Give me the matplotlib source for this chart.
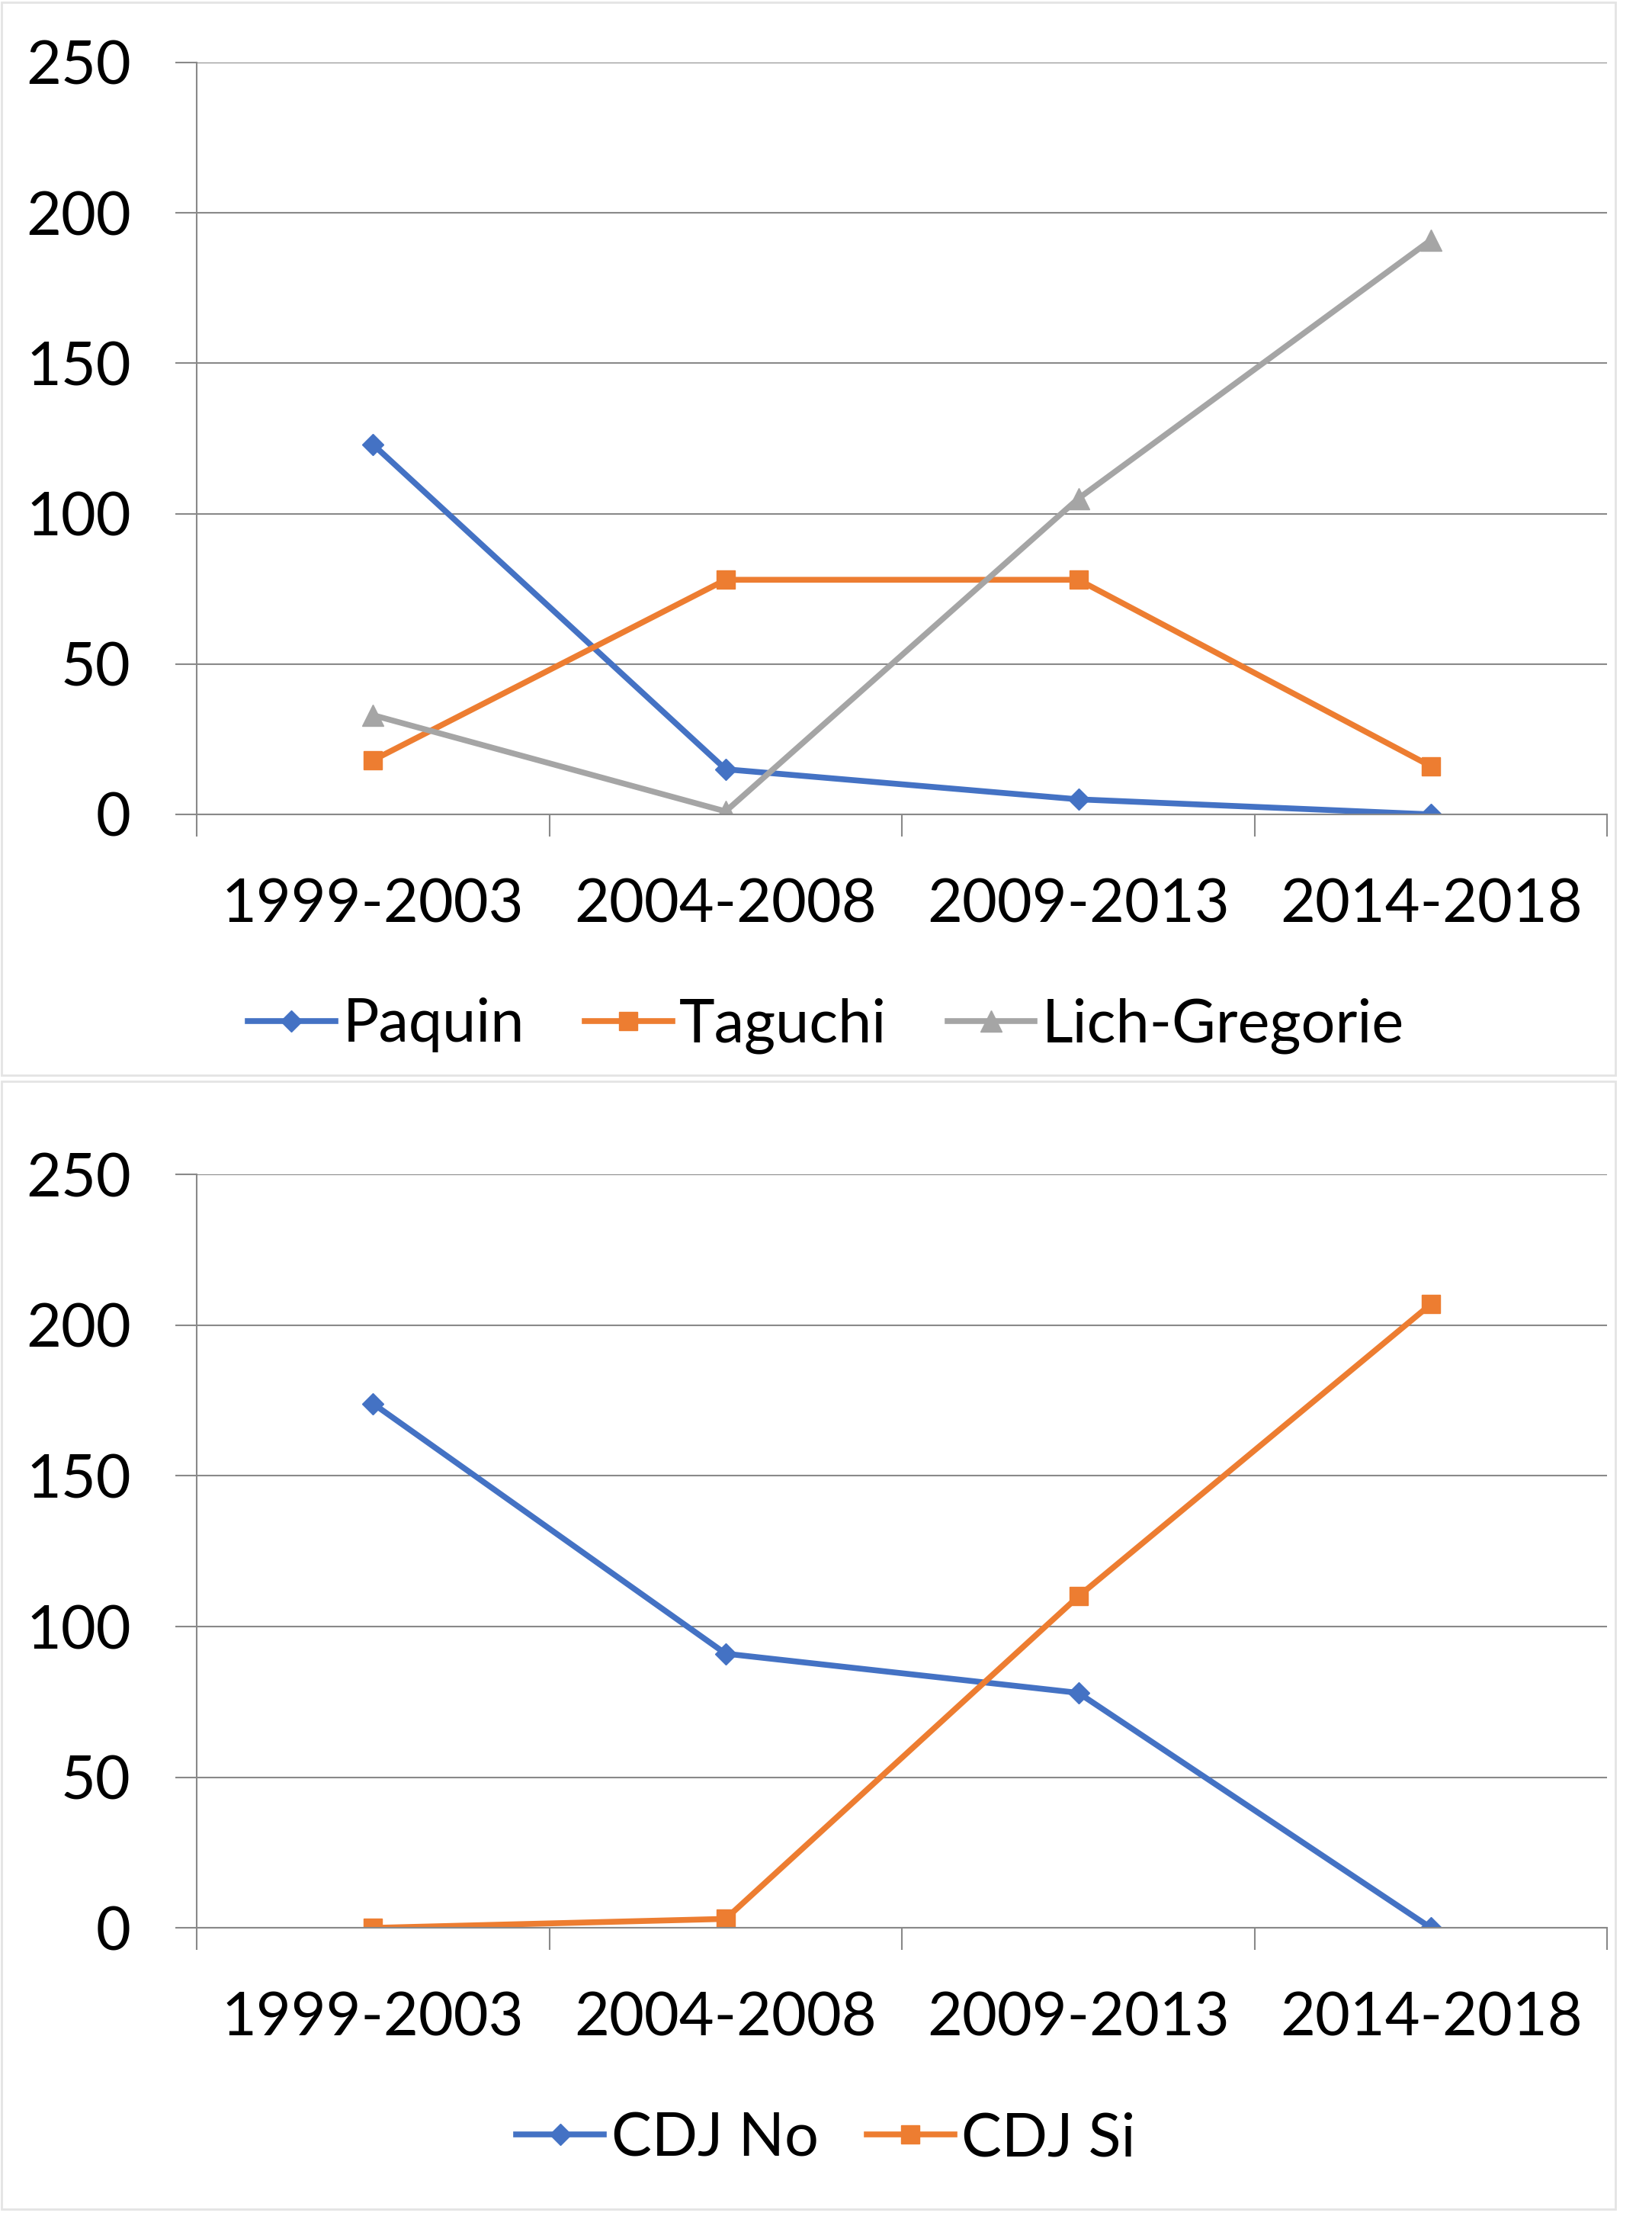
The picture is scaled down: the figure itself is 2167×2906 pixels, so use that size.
import matplotlib.pyplot as plt
from matplotlib.patches import Rectangle

# periods on the x axis
periods = ['1999-2003', '2004-2008', '2009-2013', '2014-2018']

# top chart series
paquin = [123, 15, 5, 0]
taguchi = [18, 78, 78, 16]
lich_gregorie = [33, 1, 105, 191]

# bottom chart series
cdj_no = [174, 91, 78, 0]
cdj_si = [0, 3, 110, 207]

BLUE = '#4472C4'
ORANGE = '#ED7D31'
GREY = '#A5A5A5'
AXIS = '#898989'
FS = 57

plt.rcParams['font.family'] = ['Lato', 'DejaVu Sans']

fig = plt.figure(figsize=(21.67, 29.06), dpi=100)


def style_axes(ax):
    """ excel-like look: gray grid, outward ticks, no top/right spines """
    x = list(range(len(periods)))
    ax.set_xlim(-0.5, len(periods) - 0.5)
    ax.set_ylim(0, 250)
    ax.set_yticks([0, 50, 100, 150, 200, 250])
    ax.set_xticks(x)
    ax.set_xticklabels(periods)
    ax.set_xticks([i - 0.5 for i in range(len(periods) + 1)], minor=True)
    ax.tick_params(axis='x', which='major', length=0, pad=60, labelsize=FS)
    ax.tick_params(axis='x', which='minor', length=21, width=1.5,
                   color=AXIS, direction='out')
    ax.tick_params(axis='y', length=20, width=1.5, color=AXIS,
                   direction='out', pad=42, labelsize=FS)
    ax.grid(axis='y', color=AXIS, linewidth=1.5)
    ax.set_axisbelow(True)
    for side in ['top', 'right']:
        ax.spines[side].set_visible(False)
    for side in ['left', 'bottom']:
        ax.spines[side].set_color(AXIS)
        ax.spines[side].set_linewidth(1.5)


# top chart
ax1 = fig.add_axes([0.119, 0.6325, 0.854, 0.3393])
x = list(range(len(periods)))
ax1.plot(x, paquin, color=BLUE, lw=5.5, marker='D', ms=14, label='Paquin')
ax1.plot(x, taguchi, color=ORANGE, lw=5.5, marker='s', ms=17, label='Taguchi')
ax1.plot(x, lich_gregorie, color=GREY, lw=5.5, marker='^', ms=20,
         label='Lich-Gregorie')
style_axes(ax1)
h, l = ax1.get_legend_handles_labels()
fig.legend(h, l, loc='center', bbox_to_anchor=(0.5, 1 - 1345 / 2906),
           ncol=3, frameon=False, fontsize=FS, handlelength=1.45,
           handletextpad=0.12, columnspacing=1.0)

# bottom chart
ax2 = fig.add_axes([0.119, 0.130, 0.854, 0.340])
ax2.plot(x, cdj_no, color=BLUE, lw=5.5, marker='D', ms=14, label='CDJ No')
ax2.plot(x, cdj_si, color=ORANGE, lw=5.5, marker='s', ms=17, label='CDJ Si')
style_axes(ax2)
h, l = ax2.get_legend_handles_labels()
fig.legend(h, l, loc='center', bbox_to_anchor=(0.5, 1 - 2805 / 2906),
           ncol=2, frameon=False, fontsize=FS, handlelength=1.45,
           handletextpad=0.12, columnspacing=0.8)

# faint panel frames
fig.patches.append(Rectangle((0.001, 1 - 1410 / 2906), 0.977, 1410 / 2906 - 0.001,
                             transform=fig.transFigure, fill=False,
                             edgecolor='#e4e4e4', lw=2))
fig.patches.append(Rectangle((0.001, 0.003), 0.977, 1 - 1418 / 2906 - 0.003,
                             transform=fig.transFigure, fill=False,
                             edgecolor='#e4e4e4', lw=2))

fig.savefig('out.png', dpi=100)
